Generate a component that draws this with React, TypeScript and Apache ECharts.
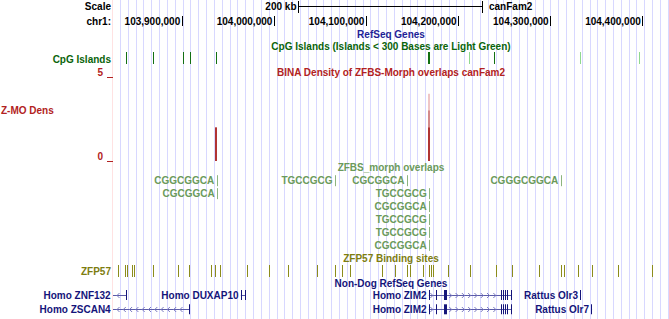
import React, { useEffect, useRef } from "react";
import * as echarts from "echarts";

// ---- view / ruler ----
const viewStart = 103825400;
const viewEnd = 104429000;
const chromName = "chr1:";
const assemblyName = "canFam2";
const rulerTicks = [103900000, 104000000, 104100000, 104200000, 104300000, 104400000];
const rulerLabels = ["103,900,000", "104,000,000", "104,100,000", "104,200,000", "104,300,000", "104,400,000"];
const scaleBarStart = 104026200;
const scaleBarLength = 200000;
const scaleBarLabel = "200 kb";
const guideFirst = 103833000;
const guideStep = 8495;

// ---- CpG islands ----
const cpgStarts = [103839800, 103868300, 103901200, 103908500, 103937500, 104166900, 104212100, 104239500, 104332600, 104396900];
const cpgEnds = [103840800, 103869300, 103902200, 103909500, 103938500, 104168700, 104212900, 104240600, 104333400, 104397700];
const cpgShort = [false, false, false, false, false, false, true, false, true, true];

// ---- BINA density (wiggle) ----
const densityPos = [103937200, 104168400];
const densityMean = [2.0, 2.0];
const densityUpper = [2.0, 3.0];
const densityMax = [2.0, 4.0];
const densityTicks = [0, 5];

// ---- ZFBS_morph overlaps ----
const zfbsPos = [103937990, 103938640, 104066400, 104144560, 104168770, 104168770, 104168770, 104168770, 104168770, 104311400];
const zfbsSeq = ["CGGCGGCA", "CGCGGCA", "TGCCGCG", "CGCGGCA", "TGCCGCG", "CGCGGCA", "TGCCGCG", "TGCCGCG", "CGCGGCA", "CGGGCGGCA"];

// ---- ZFP57 binding sites ----
const zfp57Pos = [
  103831180, 103838450, 103840290, 103846370, 103848220, 103869170, 103895660, 103908250, 103931480,
  103936140, 103941570, 103970550, 103994440, 104015060, 104046540, 104066400, 104074000, 104082690,
  104117100, 104131530, 104144890, 104147820, 104161600, 104168440, 104170290, 104172460, 104189390,
  104212950, 104240840, 104258860, 104287520, 104312050, 104314980, 104330510, 104345380, 104373930,
  104410830,
];

// ---- Non-Dog RefSeq genes ----
const geneNames = ["Homo ZNF132", "Homo ZSCAN4", "Homo DUXAP10", "Homo ZIM2", "Homo ZIM2", "Rattus Olr3", "Rattus Olr7"];
const geneStarts = [103790000, 103770000, 103964200, 104168300, 104168300, 104332700, 104344700];
const geneEnds = [103840300, 103909000, 103969600, 104258300, 104258300, 104333500, 104345500];
const geneStrands = ["-", "-", "", "+", "+", "+", "+"];
const zim2Exons = [
  [104168300, 104169000], [104176000, 104176700], [104184800, 104188400], [104247000, 104247700],
  [104249200, 104249900], [104251400, 104252100], [104253500, 104254200], [104257400, 104258300],
];
const geneExons = [
  [[103839400, 103840300]],
  [[103908100, 103909000]],
  [[103964200, 103964900], [103968900, 103969600]],
  zim2Exons,
  zim2Exons,
  [[104332700, 104333500]],
  [[104344700, 104345500]],
];

const FONT = "Liberation Sans";
const C = {
  black: "#000000",
  guide: "#d8d8ff",
  pink: "#ffe2e2",
  refseq: "#1e1e96",
  cpgTitle: "#0a640a",
  cpgDark: "#137013",
  cpgLight: "#8fd88f",
  red: "#b22222",
  densDark: "#b03434",
  densMid: "#d48a8a",
  densLight: "#efc6c6",
  zfbs: "#6b9a5b",
  zfbsTick: "#8db47f",
  olive: "#7d7d10",
  oliveTick: "#8c8c1c",
  gene: "#14147a",
  geneLine: "#5a5aa8",
  geneArrow: "#7a7ac0",
};

const txt = (text: string, x: number, y: number, fill: string, align = "right", z = 10) => ({
  type: "text",
  z,
  style: { text, x, y, align, verticalAlign: "middle", fill, fontSize: 10, fontWeight: "bold", fontFamily: FONT },
});

const vline = (x: number, y1: number, y2: number, stroke: string) => ({
  type: "line",
  shape: { x1: x, y1, x2: x, y2 },
  style: { stroke, lineWidth: 1 },
});

export default function App() {
  const ref = useRef<HTMLDivElement>(null);

  useEffect(() => {
    if (!ref.current) return;
    const chart = echarts.init(ref.current, null, { renderer: "svg" });
    const ctx = document.createElement("canvas").getContext("2d")!;
    ctx.font = `bold 10px "${FONT}"`;
    const measure = (t: string) => ctx.measureText(t).width;

    chart.setOption({
      animation: false,
      backgroundColor: "#ffffff",
      grid: [
        { left: 113, right: 0, top: 0, bottom: 0, outerBoundsMode: "none" },
        { left: 113, right: 0, top: 77, height: 84, outerBoundsMode: "none" },
      ],
      xAxis: [
        { type: "value", gridIndex: 0, min: viewStart, max: viewEnd, show: false },
        { type: "value", gridIndex: 1, min: viewStart, max: viewEnd, show: false },
      ],
      yAxis: [
        { type: "value", gridIndex: 0, min: 0, max: 319, inverse: true, show: false },
        {
          type: "value",
          gridIndex: 1,
          min: densityTicks[0],
          max: densityTicks[1],
          interval: densityTicks[1] - densityTicks[0],
          axisLine: { show: false },
          splitLine: { show: false },
          axisTick: { show: true, length: 6, lineStyle: { color: C.red, width: 1 } },
          axisLabel: {
            show: true,
            showMinLabel: true,
            showMaxLabel: true,
            color: C.red,
            fontSize: 10,
            fontWeight: "bold",
            fontFamily: FONT,
            margin: 10,
            verticalAlign: "bottom",
          },
        },
      ],
    });

    const px = (g: number) => chart.convertToPixel({ xAxisIndex: 0 }, g) as number;
    const gridL = px(viewStart);
    const gridR = px(viewEnd);
    const center = (gridL + gridR) / 2;

    // greedy packing of ZFBS items
    const zfbsRowEnds: number[] = [];
    const zfbsRow = zfbsPos.map((p, i) => {
      const x = px(p);
      const s = x - 3 - measure(zfbsSeq[i]);
      let r = 0;
      while (r < zfbsRowEnds.length && s < zfbsRowEnds[r] + 3) r++;
      zfbsRowEnds[r] = x + 1;
      return r;
    });

    // greedy packing of genes
    const geneRowEnds: number[] = [];
    const geneRow = geneNames.map((n, i) => {
      const left = Math.max(px(geneStarts[i]), gridL);
      const s = left - 2 - measure(n);
      let r = 0;
      while (r < geneRowEnds.length && s < geneRowEnds[r] + 3) r++;
      geneRowEnds[r] = px(geneEnds[i]);
      return r;
    });

    const ZFBS_Y0 = 180.7;
    const ZFBS_DY = 12.93;
    const GENE_Y0 = 295;
    const GENE_DY = 14.3;

    const custom = (name: string, data: any[], renderItem: any, z = 2, grid = 0) => ({
      type: "custom",
      name,
      xAxisIndex: grid,
      yAxisIndex: grid,
      data,
      renderItem,
      clip: false,
      silent: true,
      z,
    });

    chart.setOption({
      graphic: [
        txt("Scale", 111, 6.7, C.black),
        txt(chromName, 111, 21.7, C.black),
        txt("RefSeq Genes", center, 34.3, C.refseq, "center"),
        txt("CpG Islands (Islands < 300 Bases are Light Green)", center, 46.7, C.cpgTitle, "center"),
        txt("CpG Islands", 111, 59, C.cpgTitle),
        txt("BINA Density of ZFBS-Morph overlaps canFam2", center, 72, C.red, "center"),
        txt("Z-MO Dens", 1, 110.7, C.red, "left"),
        txt("ZFBS_morph overlaps", center, 167.8, C.zfbs, "center"),
        txt("ZFP57 Binding sites", center, 258.7, C.olive, "center"),
        txt("ZFP57", 111, 271, C.olive),
        txt("Non-Dog RefSeq Genes", center, 283.7, C.gene, "center"),
      ],
      series: [
        custom(
          "guides",
          [[viewStart, 0]],
          (params: any, api: any) => {
            const kids: any[] = [vline(Math.round(api.coord([viewStart, 0])[0]) - 0.5, 0, 319, C.pink)];
            for (let g = guideFirst; g <= viewEnd; g += guideStep) {
              const x = Math.round(api.coord([g, 0])[0]) + 0.5;
              kids.push(vline(x, 0, 319, C.guide));
            }
            return { type: "group", children: kids };
          },
          0
        ),
        custom(
          "ruler",
          rulerTicks.map((t) => [t, 0]),
          (params: any, api: any) => {
            const i = params.dataIndex;
            const x = api.coord([rulerTicks[i], 21])[0];
            return {
              type: "group",
              children: [vline(Math.round(x) + 0.5, 16, 26, C.black), txt(rulerLabels[i], x - 1.5, 21.7, C.black)],
            };
          }
        ),
        custom(
          "scalebar",
          [[scaleBarStart, 0]],
          (params: any, api: any) => {
            const x0 = Math.round(api.coord([scaleBarStart, 6])[0]) + 0.5;
            const x1 = Math.round(api.coord([scaleBarStart + scaleBarLength, 6])[0]) + 0.5;
            return {
              type: "group",
              children: [
                { type: "line", shape: { x1: x0, y1: 6.5, x2: x1, y2: 6.5 }, style: { stroke: C.black, lineWidth: 1 } },
                vline(x0, 1, 13, C.black),
                vline(x1, 1, 13, C.black),
                txt(scaleBarLabel, x0 - 2, 6.7, C.black),
                txt(assemblyName, x1 + 6.5, 6.2, C.black, "left"),
              ],
            };
          }
        ),
        custom(
          "cpg",
          cpgStarts.map((s) => [s, 0]),
          (params: any, api: any) => {
            const i = params.dataIndex;
            const a = api.coord([cpgStarts[i], 52])[0];
            const b = api.coord([cpgEnds[i], 64])[0];
            return {
              type: "rect",
              shape: { x: Math.round(a), y: 52, width: Math.max(1, Math.round(b - a)), height: 12 },
              style: { fill: cpgShort[i] ? C.cpgLight : C.cpgDark },
            };
          }
        ),
        custom(
          "density",
          densityPos.map((p, i) => [p, densityMax[i]]),
          (params: any, api: any) => {
            const i = params.dataIndex;
            const base = api.coord([densityPos[i], 0]);
            const x = Math.round(base[0]) - 1;
            const bar = (v: number, fill: string) => {
              const top = api.coord([densityPos[i], v])[1];
              return { type: "rect", shape: { x, y: top, width: 2, height: base[1] - top }, style: { fill } };
            };
            return {
              type: "group",
              children: [bar(densityMax[i], C.densLight), bar(densityUpper[i], C.densMid), bar(densityMean[i], C.densDark)],
            };
          },
          3,
          1
        ),
        custom(
          "zfbs",
          zfbsPos.map((p) => [p, 0]),
          (params: any, api: any) => {
            const i = params.dataIndex;
            const y = ZFBS_Y0 + zfbsRow[i] * ZFBS_DY;
            const x = api.coord([zfbsPos[i], y])[0];
            return {
              type: "group",
              children: [vline(Math.round(x) + 0.5, y - 5.5, y + 5.5, C.zfbsTick), txt(zfbsSeq[i], x - 2.5, y, C.zfbs)],
            };
          }
        ),
        custom(
          "zfp57",
          zfp57Pos.map((p) => [p, 0]),
          (params: any, api: any) => {
            const x = api.coord([zfp57Pos[params.dataIndex], 270])[0];
            return vline(Math.round(x) + 0.5, 265, 277, C.oliveTick);
          }
        ),
        custom(
          "genes",
          geneNames.map((n, i) => [geneStarts[i], 0]),
          (params: any, api: any) => {
            const i = params.dataIndex;
            const y = GENE_Y0 + geneRow[i] * GENE_DY;
            const yl = Math.round(y) + 0.5;
            const x0 = api.coord([geneStarts[i], y])[0];
            const x1 = api.coord([geneEnds[i], y])[0];
            const left = Math.max(x0, gridL);
            const right = Math.min(x1, gridR);
            const kids: any[] = [];
            kids.push({
              type: "line",
              shape: { x1: left, y1: yl, x2: right, y2: yl },
              style: { stroke: C.geneLine, lineWidth: 1 },
            });
            const ex = geneExons[i].map((e: number[]) => [api.coord([e[0], y])[0], api.coord([e[1], y])[0]]);
            if (geneStrands[i]) {
              const dir = geneStrands[i] === "-" ? 1 : -1;
              for (let ax = left + 4; ax < right - 2; ax += 6.3) {
                if (ex.some((e: number[]) => ax > e[0] - 3 && ax < e[1] + 3)) continue;
                kids.push({
                  type: "polyline",
                  shape: { points: [[ax + 2.5 * dir, yl - 2.5], [ax, yl], [ax + 2.5 * dir, yl + 2.5]] },
                  style: { stroke: C.geneArrow, fill: "none", lineWidth: 1 },
                });
              }
            }
            ex.forEach((e: number[]) => {
              kids.push({
                type: "rect",
                shape: { x: Math.round(e[0]), y: y - 5, width: Math.max(1, Math.round(e[1] - e[0])), height: 10 },
                style: { fill: C.gene },
              });
            });
            kids.push(txt(geneNames[i], left - 2.3, y, C.gene));
            return { type: "group", children: kids };
          },
          4
        ),
      ],
    });

    return () => chart.dispose();
  }, []);

  return (
    <div
      ref={ref}
      style={{ position: "absolute", left: 0, top: 0, width: 669, height: 319, background: "#fff" }}
    />
  );
}
